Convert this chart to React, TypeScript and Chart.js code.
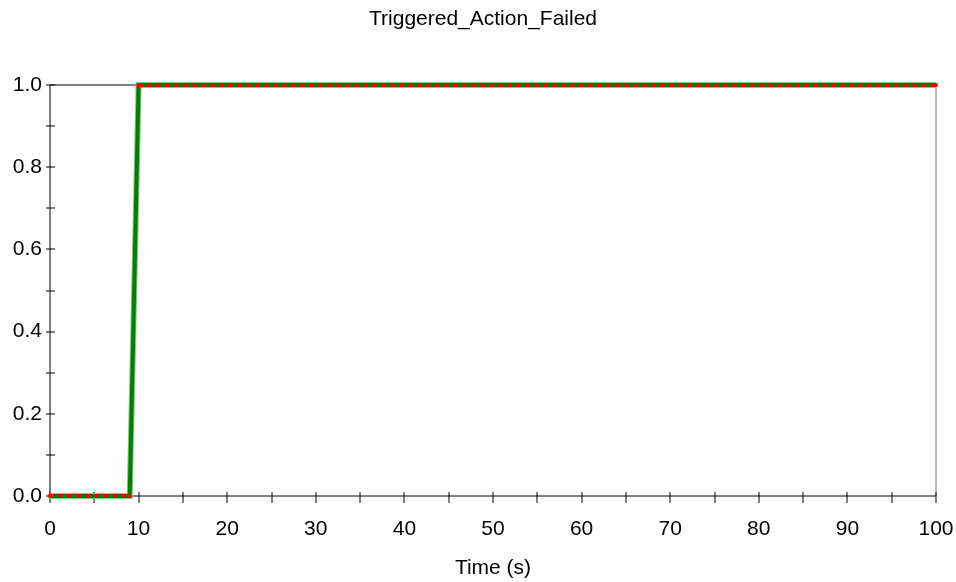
import React, { useEffect, useRef } from "react";
import { Chart, registerables } from "chart.js";

Chart.register(...registerables);

// ---- data ----
const chartTitle = "Triggered_Action_Failed";
const xAxisTitle = "Time (s)";
const timeGreen = [0, 9, 10, 100];
const valueGreen = [0, 0, 1, 1];
const timeRed = [0, 9, 9.5, 10, 100];
const valueRed: (number | null)[] = [0, 0, null, 1, 1];
const xTickValues = [0, 10, 20, 30, 40, 50, 60, 70, 80, 90, 100];
const yTickValues = [0, 0.2, 0.4, 0.6, 0.8, 1.0];

const FONT = "'Liberation Sans', Arial, sans-serif";
const FONT_SIZE = 21;

const framePlugin = {
  id: "frameTicks",
  beforeDatasetsDraw(chart: any) {
    const { ctx, chartArea, scales } = chart;
    const { left, right, top, bottom } = chartArea;
    const x = scales.x;
    const y = scales.y;
    const line = (x1: number, y1: number, x2: number, y2: number) => {
      ctx.beginPath();
      ctx.moveTo(x1, y1);
      ctx.lineTo(x2, y2);
      ctx.stroke();
    };
    ctx.save();
    ctx.lineWidth = 1;
    ctx.strokeStyle = "#000";
    line(left, top, right, top);
    ctx.strokeStyle = "#777";
    line(right, top, right, bottom);
    ctx.strokeStyle = "#000";
    line(left, top, left, bottom);
    line(left, bottom, right, bottom);
    x.ticks.forEach((t: any) => {
      const px = Math.round(x.getPixelForValue(t.value));
      line(px, bottom - 4, px, bottom + 7);
    });
    y.ticks.forEach((t: any) => {
      const py = Math.round(y.getPixelForValue(t.value));
      line(left - 4, py, left + 5, py);
    });
    ctx.restore();
  },
  afterDraw(chart: any) {
    const { ctx } = chart;
    ctx.save();
    ctx.fillStyle = "#000";
    ctx.font = `${FONT_SIZE}px ${FONT}`;
    ctx.textAlign = "center";
    ctx.textBaseline = "alphabetic";
    ctx.fillText(chartTitle, 483, 25);
    ctx.restore();
  },
};

export default function App() {
  const ref = useRef<HTMLCanvasElement>(null);
  useEffect(() => {
    if (!ref.current) return;
    const greenOutline = timeGreen.map((t, i) => ({ x: t, y: valueGreen[i] }));
    const greenCore = timeGreen.map((t, i) => ({ x: t, y: valueGreen[i] }));
    const red = timeRed.map((t, i) => ({ x: t, y: valueRed[i] }));
    const chart = new Chart(ref.current, {
      type: "line",
      data: {
        datasets: [
          {
            label: "outline",
            data: greenOutline,
            borderColor: "#86c486",
            borderWidth: 6,
            pointRadius: 0,
            tension: 0,
            clip: false,
            order: 3,
          } as any,
          {
            label: "value",
            data: greenCore,
            borderColor: "#008000",
            borderWidth: 4,
            pointRadius: 0,
            tension: 0,
            clip: false,
            order: 2,
          } as any,
          {
            label: "reference",
            data: red,
            borderColor: "#ff0000",
            borderWidth: 4,
            borderDash: [4, 5],
            borderCapStyle: "butt",
            pointRadius: 2.5,
            pointStyle: "rect",
            pointBackgroundColor: "#ff0000",
            pointBorderColor: "#ff0000",
            pointBorderWidth: 0,
            spanGaps: false,
            tension: 0,
            clip: false,
            order: 1,
          } as any,
        ],
      },
      options: {
        animation: false,
        responsive: false,
        maintainAspectRatio: false,
        layout: { padding: { top: 85, right: 20, left: 0, bottom: 0 } },
        plugins: {
          legend: { display: false },
          tooltip: { enabled: false },
          title: { display: false },
        },
        scales: {
          x: {
            type: "linear",
            min: 0,
            max: 100,
            grid: { display: false, drawTicks: false },
            border: { display: false },
            afterFit: (s: any) => {
              s.height = 86;
              s.paddingLeft = 0;
              s.paddingRight = 0;
            },
            afterBuildTicks: (s: any) => {
              const ticks: any[] = [];
              for (let v = 0; v <= 100; v += 5) ticks.push({ value: v });
              s.ticks = ticks;
            },
            ticks: {
              autoSkip: false,
              maxRotation: 0,
              padding: 21,
              color: "#000",
              font: { family: FONT, size: FONT_SIZE },
              callback: (v: any) => (xTickValues.includes(Number(v)) ? String(v) : ""),
            },
            title: {
              display: true,
              text: xAxisTitle,
              color: "#000",
              font: { family: FONT, size: FONT_SIZE },
              padding: { top: 1, bottom: 1 },
            },
          },
          y: {
            type: "linear",
            min: 0,
            max: 1,
            grid: { display: false, drawTicks: false },
            border: { display: false },
            afterFit: (s: any) => {
              s.width = 50;
              s.paddingTop = 0;
              s.paddingBottom = 0;
            },
            afterBuildTicks: (s: any) => {
              const ticks: any[] = [];
              for (let i = 0; i <= 10; i++) ticks.push({ value: i / 10 });
              s.ticks = ticks;
            },
            ticks: {
              autoSkip: false,
              padding: 8,
              color: "#000",
              font: { family: FONT, size: FONT_SIZE },
              callback: (v: any) => {
                const n = Math.round(Number(v) * 10) / 10;
                return yTickValues.some((t) => Math.abs(t - n) < 1e-9) ? n.toFixed(1) : "";
              },
            },
          },
        },
      } as any,
      plugins: [framePlugin],
    });
    return () => chart.destroy();
  }, []);
  return (
    <div style={{ position: "fixed", left: 0, top: 0, width: 956, height: 582, background: "#fff" }}>
      <canvas ref={ref} width={956} height={582} style={{ width: 956, height: 582 }} />
    </div>
  );
}
